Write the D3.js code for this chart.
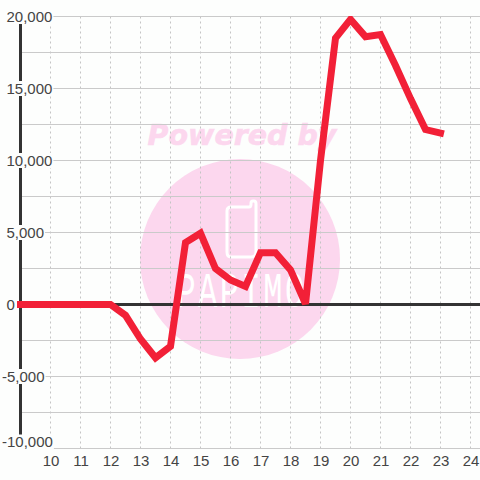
<!DOCTYPE html>
<html><head><meta charset="utf-8">
<script src="https://cdn.jsdelivr.net/npm/d3@7/dist/d3.min.js"></script>
<style>html,body{margin:0;padding:0;background:#fff}svg{display:block}text{font-family:"Liberation Sans",Arial,sans-serif}</style>
</head><body><svg id="c" width="480" height="480"></svg>
<script>
const hours=[9,9.5,10,10.5,11,11.5,12,12.5,13,13.5,14,14.5,15,15.5,16,16.5,17,17.5,18,18.5,19,19.5,20,20.5,21,21.5,22,22.5,23];
const values=[0,0,0,0,0,0,0,-750,-2400,-3700,-2900,4300,4950,2500,1700,1250,3600,3600,2400,50,10000,18500,19800,18600,18750,16600,14300,12150,11900];
const xTicks=[10,11,12,13,14,15,16,17,18,19,20,21,22,23,24];
const yLabelled=[20000,15000,10000,5000,0,-5000,-10000];
const yGrid=[20000,17500,15000,12500,10000,7500,5000,2500,0,-2500,-5000,-7500,-10000];
const bg="#fdfefd";
const x=d3.scaleLinear().domain([10,24]).range([50.5,470.5]);
const y=d3.scaleLinear().domain([-10000,20000]).range([448.5,16.5]);
const svg=d3.select("#c");
const fmt=d3.format(",");
svg.append("rect").attr("width",480).attr("height",480).attr("fill",bg);
svg.append("clipPath").attr("id","plot").append("rect").attr("x",0).attr("y",y(20000)-0.5).attr("width",480).attr("height",440);
// watermark
const wm=svg.append("g");
wm.append("circle").attr("cx",240).attr("cy",259).attr("r",100).attr("fill","#fcd7ee");
wm.append("text").attr("x",242).attr("y",145).attr("text-anchor","middle").attr("font-size",28.5).attr("font-weight","bold").attr("font-style","italic").attr("fill","#fcd7ee").attr("stroke","#fcd7ee").attr("stroke-width",0.6).style("font-family","'DejaVu Sans'").text("Powered by");
wm.append("path").attr("d","M231 207H249Q251 207 251 204V203Q251 201 253 201H254Q256 201 256 204V252Q256 257 251 257H231Q227 257 227 252V211Q227 207 231 207Z").attr("fill","none").attr("stroke","#fff").attr("stroke-width",3);
wm.append("text").attr("transform","translate(241.5,307) scale(1,1.55)").attr("text-anchor","middle").attr("font-size",32).attr("letter-spacing",2.5).attr("fill","#fff").style("font-family","'Liberation Mono'").text("PAPIMO");
// grid
svg.append("g").selectAll("line").data(xTicks).join("line").attr("x1",d=>x(d)).attr("x2",d=>x(d)).attr("y1",y(20000)).attr("y2",y(-10000)).attr("stroke","#c4c4c4").attr("stroke-dasharray","2 3");
svg.append("g").selectAll("line").data(yGrid).join("line").attr("x1",x(9)).attr("x2",480).attr("y1",d=>y(d)).attr("y2",d=>y(d)).attr("stroke","#cacaca").attr("stroke-width",1);
// axis lines
svg.append("line").attr("x1",x(9)).attr("x2",480).attr("y1",y(0)).attr("y2",y(0)).attr("stroke","#333").attr("stroke-width",3);
svg.append("line").attr("x1",x(9)).attr("x2",x(9)).attr("y1",y(20000)).attr("y2",y(-10000)).attr("stroke","#333").attr("stroke-width",3);
// labels: left aligned, bottom one lifted to stay inside the plot
const yl=svg.append("g").selectAll("g").data(yLabelled).join("g").attr("transform",d=>`translate(${d<0?2:6.5},${d==-10000?y(d)-6.5:y(d)})`);
yl.append("text").attr("text-anchor","start").attr("dy","0.36em").attr("font-size",15).attr("fill","#444").text(d=>fmt(d).replace("−","-"))
 .each(function(){const b=this.getBBox();d3.select(this.parentNode).insert("rect","text").attr("x",b.x-1).attr("y",-7.5).attr("width",b.width+2).attr("height",15).attr("fill",bg);});
svg.append("g").selectAll("text").data(xTicks).join("text").attr("x",d=>x(d)+0.5).attr("y",466).attr("text-anchor","middle").attr("font-size",15).attr("fill","#444").text(d=>d);
// series
const line=d3.line().x((d,i)=>x(hours[i])).y(d=>y(d));
svg.append("path").attr("d",line(values)).attr("clip-path","url(#plot)").attr("fill","none").attr("stroke","#f22037").attr("stroke-width",7).attr("stroke-linejoin","miter").attr("stroke-miterlimit",3).attr("stroke-linecap","square");
</script></body></html>
